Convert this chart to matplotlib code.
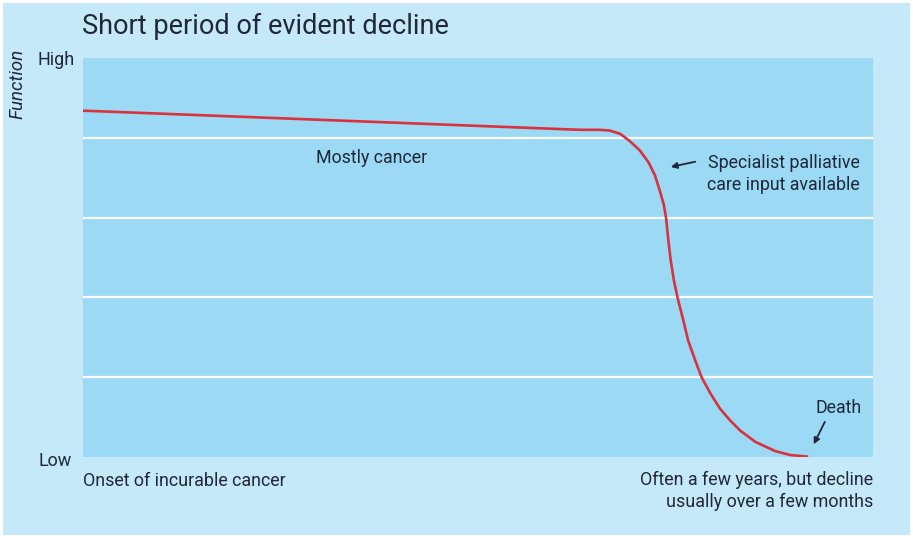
import matplotlib
matplotlib.use("Agg")
import matplotlib.pyplot as plt
from matplotlib.patches import Rectangle

# ── Data ─────────────────────────────────────────────────────────────────────
# time axis 0..100 (onset -> death), function 0 (low) .. 5 (high)
time_pts = [0, 62.9, 65.4, 66.7, 68.0, 69.2, 70.5, 71.6, 72.4, 73.0, 73.5,
            73.8, 74.1, 74.4, 74.8, 75.3, 76.0, 76.6, 77.5, 78.3, 79.4,
            80.6, 81.9, 83.2, 85.1, 87.6, 89.5, 91.8]
function_pts = [4.34, 4.10, 4.10, 4.09, 4.05, 3.96, 3.84, 3.69, 3.53, 3.34,
                3.17, 3.00, 2.71, 2.46, 2.21, 1.98, 1.71, 1.46, 1.21, 1.00,
                0.80, 0.61, 0.46, 0.33, 0.19, 0.075, 0.025, 0.004]
band_lines = [1, 2, 3, 4]

# ── Style ────────────────────────────────────────────────────────────────────
OUTER = "#c6e9fa"
INNER = "#9bd9f5"
LINE  = "#d8323e"
TEXT  = "#1e2838"
plt.rcParams["font.family"] = ["Roboto", "DejaVu Sans"]

fig = plt.figure(figsize=(9.13, 5.39), dpi=100)
fig.patch.set_facecolor("white")
fig.add_artist(Rectangle((3 / 913, 4 / 539), 907 / 913, 532 / 539,
                         transform=fig.transFigure, facecolor=OUTER,
                         edgecolor="none", zorder=-10))

ax = fig.add_axes([83 / 913, 82 / 539, 790 / 913, 399 / 539])
ax.set_zorder(1)
ax.set_facecolor(INNER)
ax.set_xlim(0, 100)
ax.set_ylim(0, 5)
for s in ax.spines.values():
    s.set_visible(False)
ax.set_xticks([])
ax.set_yticks([])

for y in band_lines:
    ax.axhline(y, color="white", linewidth=1.6, zorder=1)

ax.plot(time_pts, function_pts, color=LINE, linewidth=1.9,
        solid_joinstyle="round", solid_capstyle="butt", zorder=3)

# ── Text ─────────────────────────────────────────────────────────────────────
fig.text(82 / 913, 1 - 26 / 539, "Short period of evident decline",
         ha="left", va="center", fontsize=19.5, color=TEXT)
fig.text(17 / 913, 1 - 84 / 539, "Function", rotation=90, style="italic",
         ha="center", va="center", fontsize=13.5, color=TEXT)
fig.text(56 / 913, 1 - 60 / 539, "High", ha="center", va="center",
         fontsize=13, color=TEXT)
fig.text(55 / 913, 1 - 461 / 539, "Low", ha="center", va="center",
         fontsize=13, color=TEXT)

ax.text(36.5, 3.75, "Mostly cancer", ha="center", va="center",
        fontsize=12.8, color=TEXT)
ax.text(98.3, 3.545, "Specialist palliative\ncare input available",
        ha="right", va="center", fontsize=12.8, color=TEXT,
        linespacing=1.25)
ax.annotate("", xy=(74.4, 3.635), xytext=(77.5, 3.70),
            arrowprops=dict(arrowstyle="-|>", color=TEXT, lw=1.3,
                            mutation_scale=9, shrinkA=0, shrinkB=0))
ax.text(95.6, 0.62, "Death", ha="center", va="center",
        fontsize=12.8, color=TEXT)
ax.annotate("", xy=(92.5, 0.16), xytext=(93.9, 0.44),
            arrowprops=dict(arrowstyle="-|>", color=TEXT, lw=1.3,
                            mutation_scale=9, shrinkA=0, shrinkB=0))

fig.text(83 / 913, 1 - 481 / 539, "Onset of incurable cancer",
         ha="left", va="center", fontsize=12.9, color=TEXT)
fig.text(873 / 913, 1 - 491 / 539,
         "Often a few years, but decline\nusually over a few months",
         ha="right", va="center", fontsize=12.9, color=TEXT,
         linespacing=1.25)

fig.savefig("out.png", dpi=100, facecolor="white")
